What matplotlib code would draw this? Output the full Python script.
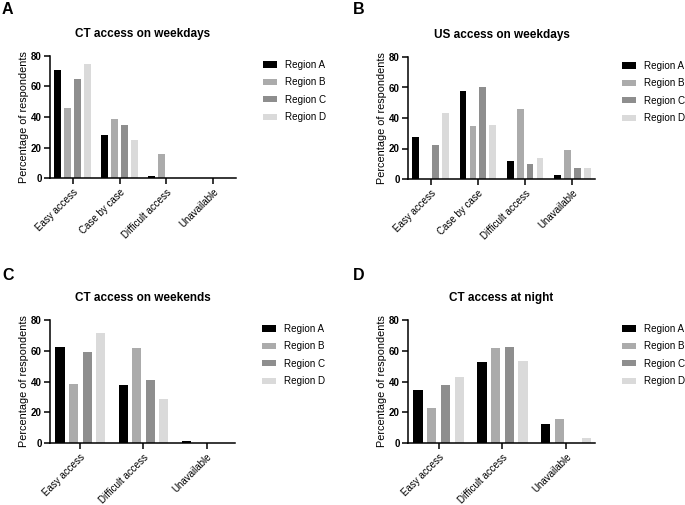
import matplotlib
matplotlib.use("Agg")
import matplotlib.pyplot as plt
import numpy as np
from matplotlib.patches import Patch

plt.rcParams['font.family'] = ['Liberation Sans', 'DejaVu Sans']

regions = ["Region A", "Region B", "Region C", "Region D"]
colors = ["#000000", "#ababab", "#8e8e8e", "#dadada"]

cats4 = ["Easy access", "Case by case", "Difficult access", "Unavailable"]
cats3 = ["Easy access", "Difficult access", "Unavailable"]

# Panel A: CT access on weekdays
a_vals = {
    "Region A": [71, 28, 1, 0],
    "Region B": [46, 38.5, 15.5, 0],
    "Region C": [65, 35, 0, 0],
    "Region D": [75, 25, 0, 0],
}
# Panel B: US access on weekdays
b_vals = {
    "Region A": [27.5, 57.5, 12, 2.5],
    "Region B": [0, 34.5, 46, 19],
    "Region C": [22.5, 60, 10, 7.5],
    "Region D": [43, 35.5, 14, 7],
}
# Panel C: CT access on weekends
c_vals = {
    "Region A": [62.5, 37.5, 1],
    "Region B": [38.5, 61.5, 0],
    "Region C": [59, 41, 0],
    "Region D": [71.5, 28.5, 0],
}
# Panel D: CT access at night
d_vals = {
    "Region A": [34.5, 53, 12.5],
    "Region B": [23, 61.5, 15.5],
    "Region C": [37.5, 62.5, 0],
    "Region D": [43, 53.5, 3.5],
}

panels = [
    ("A", "CT access on weekdays", cats4, a_vals, [50, 236, 56, 178], (2, 9)),
    ("B", "US access on weekdays", cats4, b_vals, [408, 595, 57, 179], (353, 9)),
    ("C", "CT access on weekends", cats3, c_vals, [50, 235, 320, 443], (2, 275)),
    ("D", "CT access at night", cats3, d_vals, [408, 595, 320, 443], (353, 275)),
]

W, H = 685, 505
fig = plt.figure(figsize=(W / 100, H / 100), dpi=100)

for letter, title, cats, vals, (x0, x1, yt, yb), (lx, ly) in panels:
    ax = fig.add_axes([x0 / W, 1 - yb / H, (x1 - x0) / W, (yb - yt) / H])
    n = len(cats)
    x = np.arange(n)
    step = 0.21 if n == 4 else 0.215
    width = 0.145
    for i, r in enumerate(regions):
        ax.bar(x + (i - 1.5) * step, vals[r], width=width, color=colors[i],
               edgecolor='none', label=r)
    ax.set_ylim(0, 80)
    if n == 4:
        ax.set_xlim(-0.48, 3.48)
    else:
        ax.set_xlim(-0.48, 2.45)
    ax.set_yticks([0, 20, 40, 60, 80])
    ax.set_xticks(x)
    ax.set_xticklabels(cats, rotation=45, ha='right', va='top',
                       rotation_mode='anchor', fontsize=7.0, fontweight='medium')
    for lbl in ax.get_yticklabels():
        lbl.set_fontweight('bold')
        lbl.set_fontsize(7)
    ax.spines['top'].set_visible(False)
    ax.spines['right'].set_visible(False)
    for s in ['left', 'bottom']:
        ax.spines[s].set_linewidth(1.1)
    ax.tick_params(axis='both', width=1.1, length=4, pad=2)
    ax.tick_params(axis='x', pad=2.5)
    ax.set_ylabel("Percentage of respondents", fontsize=7.8, labelpad=1.5)
    ax.set_title(title, fontsize=8.5, fontweight='bold', pad=14)
    fig.text(lx / W, 1 - ly / H, letter, fontsize=11.5, fontweight='bold',
             ha='left', va='center')
    handles = [Patch(facecolor=c, edgecolor='none') for c in colors]
    ax.legend(handles, regions, loc='upper left',
              bbox_to_anchor=((x1 + 23) / W, 1 - (yt) / H),
              bbox_transform=fig.transFigure, frameon=False, fontsize=7.1,
              handlelength=1.45, handleheight=0.6, handletextpad=0.8,
              labelspacing=0.75, borderaxespad=0)

fig.savefig("out.png", dpi=100)
